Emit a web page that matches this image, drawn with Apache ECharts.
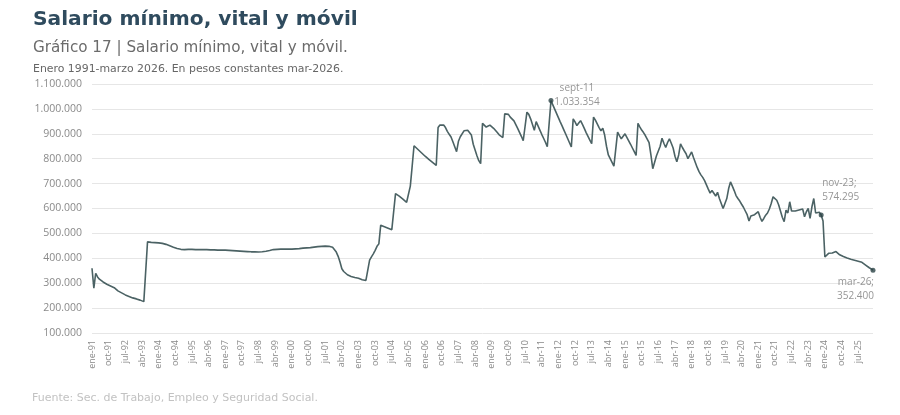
<!DOCTYPE html>
<html>
<head>
<meta charset="utf-8">
<script src="https://cdn.jsdelivr.net/npm/echarts@6/dist/echarts.min.js"></script>
<style>
  html, body { margin: 0; padding: 0; background: #ffffff; }
  #chart { width: 900px; height: 415px; }
</style>
</head>
<body>
<div id="chart"></div>
<script>
// ---- Data (SMVM, pesos constantes mar-2026), mensual ene-1991 .. mar-2026 ----
const monthNames = ['ene','feb','mar','abr','may','jun','jul','ago','sept','oct','nov','dic'];
const firstYear = 1991;
const lastYear = 2026;
const lastMonthIndex = 2; // marzo 2026

const values1991_2000 = [
  360000, 280000, 340000, 325000, 316000, 310000, 305000, 300000, 296000, 292000, 289000, 286000,
  282000, 276000, 269000, 265000, 261000, 257000, 253000, 250000, 247000, 244000, 241000, 239000,
  237000, 234000, 232000, 229000, 226000, 221000, 466000, 465000, 464000, 464000, 463000, 463000,
  462000, 461000, 460000, 458000, 456000, 453000, 450000, 447000, 444000, 441000, 439000, 437000,
  436000, 436000, 435000, 436000, 436000, 435000, 436000, 435000, 435000, 436000, 435000, 435000,
  435000, 436000, 435000, 435000, 434000, 435000, 434000, 434000, 433000, 434000, 433000, 433000,
  433000, 432000, 432000, 431000, 431000, 430000, 430000, 429000, 429000, 428000, 428000, 428000,
  427000, 427000, 426000, 426000, 426000, 425000, 425000, 426000, 426000, 427000, 428000, 429000,
  431000, 434000, 435000, 436000, 436000, 436000, 437000, 437000, 437000, 437000, 437000, 437000,
  437000, 438000, 438000, 439000, 439000, 440000, 441000, 441000, 442000, 443000, 443000, 444000
];
const values2001_2010 = [
  445000, 446000, 447000, 447000, 448000, 449000, 449000, 449000, 448000, 447000, 444000, 438000,
  425000, 408000, 385000, 358000, 347000, 340000, 334000, 329000, 327000, 325000, 323000, 321000,
  320000, 318000, 314000, 311000, 311000, 313000, 393000, 406000, 418000, 432000, 448000, 458000,
  533000, 530000, 527000, 524000, 521000, 518000, 515000, 512000, 660000, 655000, 650000, 645000,
  638000, 631000, 625000, 620000, 690000, 770000, 852000, 846000, 838000, 831000, 824000, 817000,
  810000, 803000, 797000, 791000, 785000, 779000, 773000, 925000, 935000, 940000, 935000, 925000,
  910000, 898000, 887000, 868000, 848000, 828000, 870000, 888000, 895000, 912000, 913000, 914000,
  913000, 895000, 858000, 835000, 812000, 792000, 780000, 942000, 935000, 927000, 933000, 935000,
  928000, 922000, 915000, 905000, 896000, 888000, 885000, 980000, 987000, 978000, 967000, 960000,
  952000, 937000, 922000, 906000, 890000, 872000, 866000, 987000, 978000, 960000, 937000, 914000
];
const values2011_2020 = [
  949000, 932000, 915000, 898000, 882000, 866000, 848000, 840000, 1033354, 1016000, 999000, 982000,
  965000, 948000, 932000, 915000, 898000, 881000, 864000, 847000, 960000, 948000, 933000, 943000,
  953000, 938000, 922000, 905000, 890000, 875000, 860000, 967000, 955000, 940000, 925000, 912000,
  922000, 895000, 850000, 815000, 800000, 785000, 770000, 762000, 907000, 893000, 880000, 885000,
  900000, 886000, 872000, 858000, 843000, 828000, 813000, 942000, 928000, 915000, 905000, 893000,
  885000, 865000, 815000, 760000, 755000, 812000, 818000, 850000, 882000, 862000, 845000, 865000,
  880000, 862000, 843000, 810000, 788000, 815000, 860000, 845000, 832000, 820000, 800000, 793000,
  827000, 805000, 785000, 765000, 748000, 735000, 725000, 712000, 695000, 678000, 662000, 672000,
  668000, 650000, 665000, 640000, 620000, 600000, 603000, 640000, 680000, 707000, 690000, 672000,
  652000, 640000, 630000, 617000, 605000, 590000, 575000, 550000, 570000, 578000, 575000, 567000
];
const values2021_2026 = [
  587000, 565000, 548000, 560000, 573000, 582000, 598000, 620000, 647000, 640000, 633000, 615000,
  590000, 565000, 547000, 593000, 582000, 627000, 590000, 592000, 590000, 587000, 594000, 600000,
  598000, 567000, 587000, 600000, 560000, 607000, 640000, 582000, 586000, 585000, 574295, 550000,
  405000, 412000, 420000, 426000, 421000, 417000, 427000, 420000, 414000, 410000, 407000, 404000,
  401000, 399000, 396000, 394000, 392000, 390000, 388000, 387000, 384000, 380000, 373000, 367000,
  362000, 357000, 352400
];

// Highlighted points and their labels
const highlightCats = ['sept-11', 'nov-23', 'mar-26'];
const highlightTexts = ['sept-11\n1.033.354', 'nov-23;\n574.295', 'mar-26;\n352.400'];

// Y axis ticks
const yMin = 100000, yMax = 1100000, yStep = 100000;

// ---- Build ----
const categories = [];
for (let y = firstYear; y <= lastYear; y++) {
  for (let m = 0; m < 12; m++) {
    if (y === lastYear && m > lastMonthIndex) break;
    categories.push(monthNames[m] + '-' + String(y).slice(2));
  }
}
const values = [].concat(values1991_2000, values2001_2010, values2011_2020, values2021_2026);

function fmt(v) {
  return String(Math.round(v)).replace(/\B(?=(\d{3})+(?!\d))/g, '.');
}

const labelStyles = [
  { align: 'center', offset: [26, -5] },
  { align: 'left', offset: [1, -25] },
  { align: 'right', offset: [1, 19] }
];
const highlightData = highlightCats.map((c, k) => {
  const idx = categories.indexOf(c);
  return {
    value: [c, values[idx]],
    label: {
      show: true,
      formatter: highlightTexts[k],
      position: 'inside',
      align: labelStyles[k].align,
      verticalAlign: 'middle',
      offset: labelStyles[k].offset,
      color: '#7a7a7a',
      fontSize: 10,
      lineHeight: 14,
      fontFamily: 'Open Sans'
    }
  };
});

const chart = echarts.init(document.getElementById('chart'), null, { renderer: 'canvas' });
chart.setOption({
  backgroundColor: '#ffffff',
  animation: false,
  title: [
    { text: 'Salario mínimo, vital y móvil', left: 28, top: 5, padding: 5,
      textStyle: { fontFamily: 'DejaVu Sans', fontWeight: 'bold', fontSize: 20.2, color: '#2f4b5e' } },
    { text: 'Gráfico 17 | Salario mínimo, vital y móvil.', left: 28, top: 36, padding: 5,
      textStyle: { fontFamily: 'DejaVu Sans', fontWeight: 'normal', fontSize: 15.2, color: '#6b6b6b' } },
    { text: 'Enero 1991-marzo 2026. En pesos constantes mar-2026.', left: 28, top: 59, padding: 5,
      textStyle: { fontFamily: 'DejaVu Sans', fontWeight: 'normal', fontSize: 10.9, color: '#666666' } },
    { text: 'Fuente: Sec. de Trabajo, Empleo y Seguridad Social.', left: 27, top: 388, padding: 5,
      textStyle: { fontFamily: 'DejaVu Sans', fontWeight: 'normal', fontSize: 11, color: '#c2c2c2' } }
  ],
  grid: { left: 92, right: 27, top: 84, bottom: 82, containLabel: false },
  xAxis: {
    type: 'category',
    data: categories,
    boundaryGap: false,
    axisLine: { show: false },
    axisTick: { show: false },
    axisLabel: {
      interval: 8,
      rotate: 90,
      margin: 7,
      hideOverlap: false,
      color: '#8a8a8a',
      fontSize: 9,
      fontFamily: 'Open Sans'
    },
    splitLine: { show: false }
  },
  yAxis: {
    type: 'value',
    min: yMin,
    max: yMax,
    interval: yStep,
    axisLine: { show: false },
    axisTick: { show: false },
    axisLabel: {
      color: '#8a8a8a',
      fontSize: 10.5,
      margin: 10,
      fontFamily: 'Open Sans',
      formatter: fmt
    },
    splitLine: { lineStyle: { color: '#e6e6e6', width: 1 } }
  },
  series: [
    {
      type: 'line',
      data: values,
      symbol: 'none',
      lineStyle: { color: '#4b6264', width: 1.6 },
      z: 2
    },
    {
      type: 'scatter',
      data: highlightData,
      symbol: 'circle',
      symbolSize: 5,
      itemStyle: { color: '#2c4446' },
      z: 3
    }
  ]
});
</script>
</body>
</html>
